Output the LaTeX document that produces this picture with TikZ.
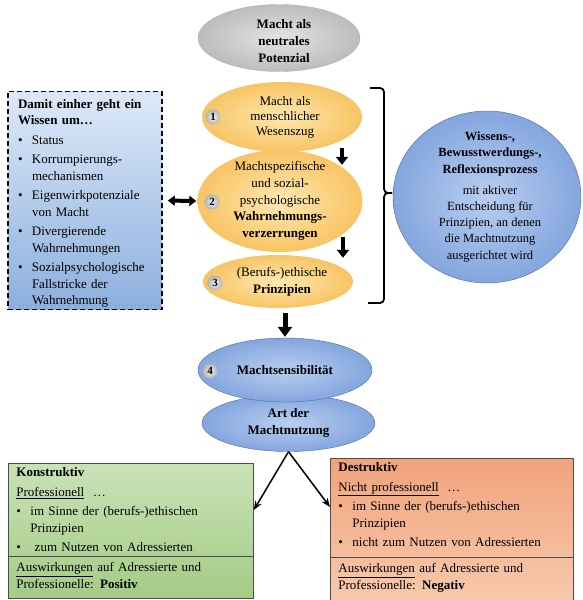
\documentclass[tikz,border=0pt]{standalone}
\usepackage{fontspec}
\setmainfont{Liberation Serif}
\usetikzlibrary{shapes.geometric,shapes.multipart,arrows.meta}
\setlength\parindent{0pt}
\definecolor{yelin}{RGB}{254,232,176}
\definecolor{yelout}{RGB}{248,196,100}
\definecolor{grain}{RGB}{228,228,228}
\definecolor{graout}{RGB}{188,188,188}
\definecolor{bluin}{RGB}{184,206,240}
\definecolor{bluout}{RGB}{132,166,222}
\definecolor{bluline}{RGB}{78,108,160}
\definecolor{lbtop}{RGB}{221,233,248}
\definecolor{lbbot}{RGB}{140,175,222}
\definecolor{grtop}{RGB}{201,226,182}
\definecolor{grbot}{RGB}{163,204,134}
\definecolor{rdtop}{RGB}{241,163,124}
\definecolor{rdbot}{RGB}{248,201,172}
\newlength\bulwd
\setlength\bulwd{14pt}
\newcommand\gap{\par\vskip3pt\relax}
\newcommand\bul[1]{\gap\hangindent\bulwd\relax\hangafter1\relax\noindent\hbox to\bulwd{\textbullet\hfil}#1\par}

\begin{document}
\begin{tikzpicture}[x=1pt, y=-1pt,
    txt/.style={font=\fontsize{13}{16.5}\selectfont},
    etxt/.style={align=center, inner sep=0pt, font=\fontsize{13}{16.7}\selectfont},
    ell/.style={ellipse, inner sep=0pt, inner color=#1in, outer color=#1out},
    badge/.style={circle, minimum size=15pt, inner sep=0pt, inner color=white!90!gray,
                  outer color=gray!60, font=\fontsize{11}{11}\selectfont\bfseries},
    lbox/.style={draw, line width=1.6pt, dash pattern=on 5pt off 3pt, top color=lbtop,
                 bottom color=lbbot, text width=134pt, inner xsep=10pt, inner ysep=2pt,
                 align=left, txt},
    sbox/.style={rectangle split, rectangle split parts=2, draw=black!70, line width=0.8pt,
                 inner xsep=8pt, inner ysep=4pt, align=left, anchor=north west, txt},
    blk/.style={line width=4pt, -{Triangle[width=12pt,length=8pt]}},
    dbl/.style={line width=4pt, {Triangle[width=10pt,length=7pt]}-{Triangle[width=10pt,length=7pt]}},
    arr/.style={line width=1.5pt, -{Stealth[length=9pt,width=7pt]}},
    brc/.style={line width=1.8pt, rounded corners=4pt},
]
\useasboundingbox (0,0) rectangle (583,600);

\node[ell=gra, draw=gray!60, minimum width=162pt, minimum height=67pt,
      label={[etxt,xshift=5pt,yshift=-3pt,font=\fontsize{13}{16.7}\selectfont\bfseries]center:{Macht als\\neutrales\\Potenzial}}] (neutral) at (279,38) {};

\node[ell=yel, minimum width=160pt, minimum height=70pt,
      label={[etxt,xshift=3pt,font=\fontsize{13}{15}\selectfont]center:{Macht als\\menschlicher\\Wesenszug}}] (mensch) at (282,117) {};
\node[ell=yel, minimum width=165pt, minimum height=102pt,
      label={[etxt]center:{Machtspezifische\\und sozial-\\psychologische\\\textbf{Wahrnehmungs-}\\\textbf{verzerrungen}}}] (wahr) at (280,201) {};
\node[ell=yel, minimum width=150pt, minimum height=53pt,
      label={[etxt,xshift=4pt]center:{(Berufs-)ethische\\\textbf{Prinzipien}}}] (prinz) at (278,281.5) {};

\node[lbox, minimum height=217pt] (wissen) at (85,200.5) {%
  \rule{0pt}{15pt}\textbf{Damit einher geht ein}\newline\textbf{Wissen um…}
  \bul{Status}
  \bul{Korrumpierungs-\newline mechanismen}
  \bul{Eigenwirkpotenziale\newline von Macht}
  \bul{Divergierende\newline Wahrnehmungen}
  \bul{Sozialpsychologische\newline Fallstricke der\newline Wahrnehmung}};

\node[ell=blu, draw=bluline, minimum width=188pt, minimum height=172pt,
      label={[etxt,xshift=3pt,font=\fontsize{12.5}{16.3}\selectfont]center:{\textbf{Wissens-,}\\\textbf{Bewusstwerdungs-,}\\\textbf{Reflexionsprozess}\\[4.5pt]mit aktiver\\Entscheidung für\\Prinzipien, an denen\\die Machtnutzung\\ausgerichtet wird}}] (reflex) at (487,197) {};

\node[ell=blu, draw=bluline, minimum width=173pt, minimum height=57pt,
      label={[etxt,font=\fontsize{13}{16.7}\selectfont\bfseries]center:{Art der\\Machtnutzung}}] (art) at (288.5,423) {};
\node[ell=blu, draw=bluline, minimum width=174pt, minimum height=64pt,
      label={[etxt,font=\fontsize{13}{16.7}\selectfont\bfseries]center:{Machtsensibilität}}] (sens) at (285,370) {};

\foreach \n/\x/\y in {1/213/117, 2/212/202, 3/215/283, 4/210/371}
    \node[badge] (b\n) at (\x,\y) {\n};

\node[sbox, text width=229pt, top color=grtop, bottom color=grbot] (kons) at (8,463) {%
  \textbf{Konstruktiv}\gap
  \underline{Professionell}\ \ …
  \bul{im Sinne der (berufs-)ethischen\newline Prinzipien}
  \bul{\ zum Nutzen von Adressierten}
  \nodepart{two}
  \rule{0pt}{11pt}\underline{Auswirkungen} auf Adressierte und\newline Professionelle: \textbf{Positiv}\rule[-6pt]{0pt}{6pt}};
\node[sbox, text width=227pt, top color=rdtop, bottom color=rdbot] (dest) at (330,458) {%
  \textbf{Destruktiv}\gap
  \underline{Nicht professionell}\ \ …
  \bul{im Sinne der (berufs-)ethischen\newline Prinzipien}
  \bul{nicht zum Nutzen von Adressierten\rule[-6pt]{0pt}{6pt}}
  \nodepart{two}
  \rule{0pt}{11pt}\underline{Auswirkungen} auf Adressierte und\newline Professionelle: \textbf{Negativ}\rule[-7pt]{0pt}{7pt}};

\draw[blk] ([xshift=60pt,yshift=4pt]mensch.south) -- ([xshift=62pt,yshift=-15pt]wahr.north);
\draw[blk] ([xshift=63pt,yshift=15pt]wahr.south) -- ([xshift=65pt,yshift=-3pt]prinz.north);
\draw[blk, line width=5pt, -{Triangle[width=14pt,length=10pt]}] ([xshift=7pt,yshift=-5pt]prinz.south) -- ([yshift=1pt]sens.north);
\draw[dbl, shorten <=5pt, shorten >=1pt] (wissen.east) -- (wahr.west);

\draw[brc] (370,88) -- (384,88) -- (384,193) -- (392,193);
\draw[brc] (392,193) -- (384,193) -- (384,303) -- (368,303);

\draw[arr] (art.south) -- ([yshift=-47pt]kons.north east);
\draw[arr] (art.south) -- ([yshift=-49pt]dest.north west);
\end{tikzpicture}
\end{document}
